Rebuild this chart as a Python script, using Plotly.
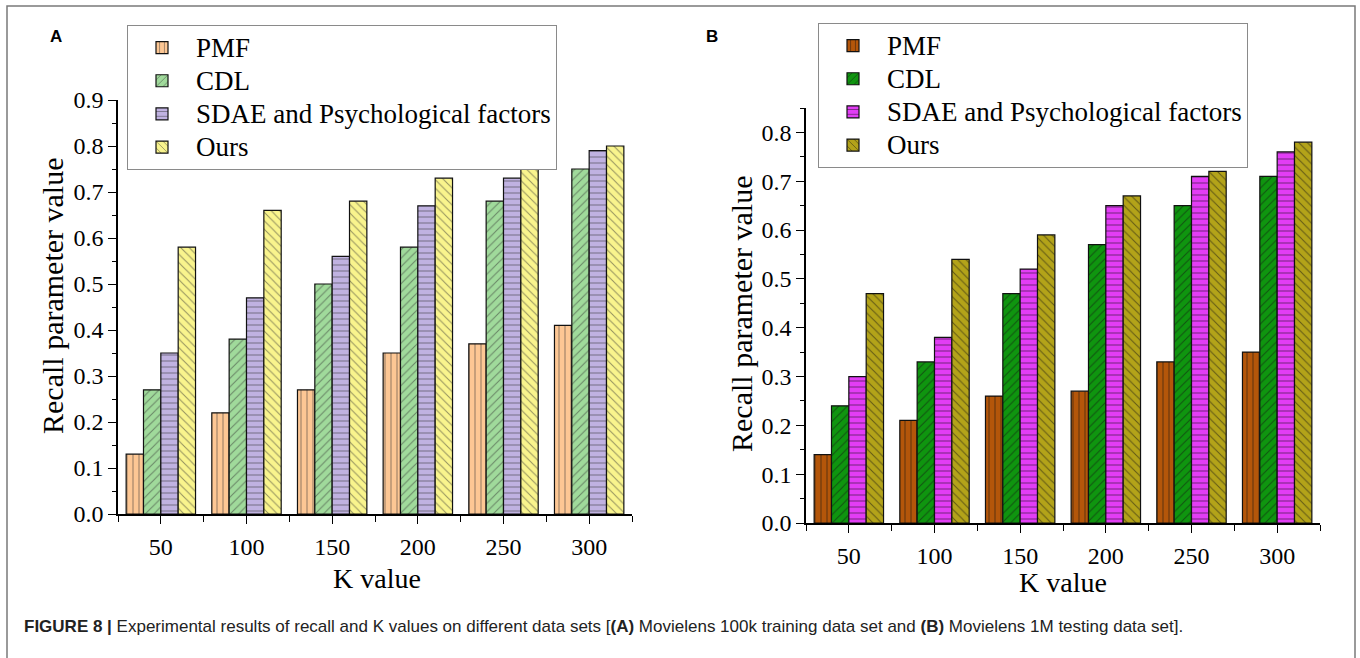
import plotly.graph_objects as go

# ---------------- data ----------------
k_values = ["50", "100", "150", "200", "250", "300"]
series_names = ["PMF", "CDL", "SDAE and Psychological factors", "Ours"]

a_pmf = [0.13, 0.22, 0.27, 0.35, 0.37, 0.41]
a_cdl = [0.27, 0.38, 0.50, 0.58, 0.68, 0.75]
a_sdae = [0.35, 0.47, 0.56, 0.67, 0.73, 0.79]
a_ours = [0.58, 0.66, 0.68, 0.73, 0.75, 0.80]

b_pmf = [0.14, 0.21, 0.26, 0.27, 0.33, 0.35]
b_cdl = [0.24, 0.33, 0.47, 0.57, 0.65, 0.71]
b_sdae = [0.30, 0.38, 0.52, 0.65, 0.71, 0.76]
b_ours = [0.47, 0.54, 0.59, 0.67, 0.72, 0.78]

# ---------------- styles ----------------
colors_a = ["#FDC794", "#A0DA9B", "#C0B2E1", "#F9F48D"]
colors_b = ["#B4560A", "#0F950F", "#E23DF5", "#B3A319"]
shapes = ["|", "/", "-", "\\"]
SERIF = "Liberation Serif, Times New Roman, serif"
SANS = "Liberation Sans, Arial, sans-serif"

W, H = 1360, 658
x_idx = list(range(len(k_values)))
boundaries = [i - 0.5 for i in range(len(k_values) + 1)]

fig = go.Figure()

panels = [
    ("x", "y", [a_pmf, a_cdl, a_sdae, a_ours], colors_a, "legend", "#333333"),
    ("x2", "y2", [b_pmf, b_cdl, b_sdae, b_ours], colors_b, "legend2", "#111111"),
]
for xa, ya, vals, cols, leg, fg in panels:
    for name, v, c, s in zip(series_names, vals, cols, shapes):
        fig.add_trace(go.Bar(
            x=x_idx, y=v, name='<span style="font-size:27px">%s</span>' % name,
            xaxis=xa, yaxis=ya, legend=leg,
            marker=dict(color=c, line=dict(color="#111111", width=1.2),
                        pattern=dict(shape=s, fgcolor=fg, size=6, solidity=0.18)),
        ))

def px_x(p):
    return p / W

def px_y(p):
    return 1 - p / H

axis_common = dict(
    showline=True, linecolor="black", linewidth=1.5, showgrid=False, zeroline=False,
    ticks="outside", ticklen=8, tickwidth=1.3, tickcolor="black", automargin=False,
)

xa_common = dict(axis_common, tickvals=x_idx, ticktext=k_values, range=[-0.5, 5.5],
                 tickfont=dict(family=SERIF, size=24, color="black"), ticklabelstandoff=2,
                 minor=dict(tickvals=boundaries, ticks="outside", ticklen=6, tickwidth=1.3,
                            tickcolor="black"))
ya_common = dict(axis_common, dtick=0.1, tick0=0, tickformat=".1f",
                 tickfont=dict(family=SERIF, size=24, color="black"),
                 minor=dict(dtick=0.05, ticks="outside", ticklen=4, tickwidth=1.2,
                            tickcolor="black"))

legend_common = dict(xanchor="left", yanchor="top", bgcolor="white",
                     bordercolor="#8a8a8a", borderwidth=1,
                     font=dict(family=SERIF, size=23.2, color="black"),
                     tracegroupgap=0, itemwidth=58)

fig.update_layout(
    width=W, height=H, autosize=False,
    margin=dict(l=0, r=0, t=0, b=0, pad=0, autoexpand=False),
    paper_bgcolor="white", plot_bgcolor="white",
    barmode="group", bargap=0.19, bargroupgap=0,
    showlegend=True,
    xaxis=dict(xa_common, domain=[px_x(118), px_x(632)], anchor="y"),
    yaxis=dict(ya_common, domain=[px_y(514), px_y(100)], range=[0, 0.9], anchor="x"),
    xaxis2=dict(xa_common, domain=[px_x(806), px_x(1320)], anchor="y2"),
    yaxis2=dict(ya_common, domain=[px_y(523), px_y(108)], range=[0, 0.85], anchor="x2"),
    legend=dict(legend_common, x=px_x(127), y=px_y(25)),
    legend2=dict(legend_common, x=px_x(818), y=px_y(23)),
)

annotations = [
    dict(text="Recall parameter value", x=px_x(53), y=px_y(296), textangle=-90,
         font=dict(family=SERIF, size=30, color="black")),
    dict(text="Recall parameter value", x=px_x(741), y=px_y(313), textangle=-90,
         font=dict(family=SERIF, size=30, color="black")),
    dict(text="K value", x=px_x(377), y=px_y(578),
         font=dict(family=SERIF, size=28, color="black")),
    dict(text="K value", x=px_x(1063), y=px_y(582),
         font=dict(family=SERIF, size=28, color="black")),
    dict(text="<b>A</b>", x=px_x(56), y=px_y(37),
         font=dict(family=SANS, size=17, color="black")),
    dict(text="<b>B</b>", x=px_x(712), y=px_y(37),
         font=dict(family=SANS, size=17, color="black")),
    dict(text="<b>FIGURE 8 |</b> Experimental results of recall and K values on different data sets "
              "[<b>(A)</b> Movielens 100k training data set and <b>(B)</b> Movielens 1M testing data set].",
         x=px_x(22), y=px_y(626), xanchor="left",
         font=dict(family=SANS, size=17, color="#222222")),
]
for a in annotations:
    a.setdefault("xanchor", "center")
    a.update(xref="paper", yref="paper", yanchor="middle", showarrow=False)
fig.update_layout(annotations=annotations)

fig.add_shape(type="rect", xref="paper", yref="paper",
              x0=px_x(7), x1=px_x(1355), y0=-0.05, y1=px_y(6),
              line=dict(color="#7a7a7a", width=1.5), fillcolor="rgba(0,0,0,0)", layer="below")

fig.write_html("out.html")
